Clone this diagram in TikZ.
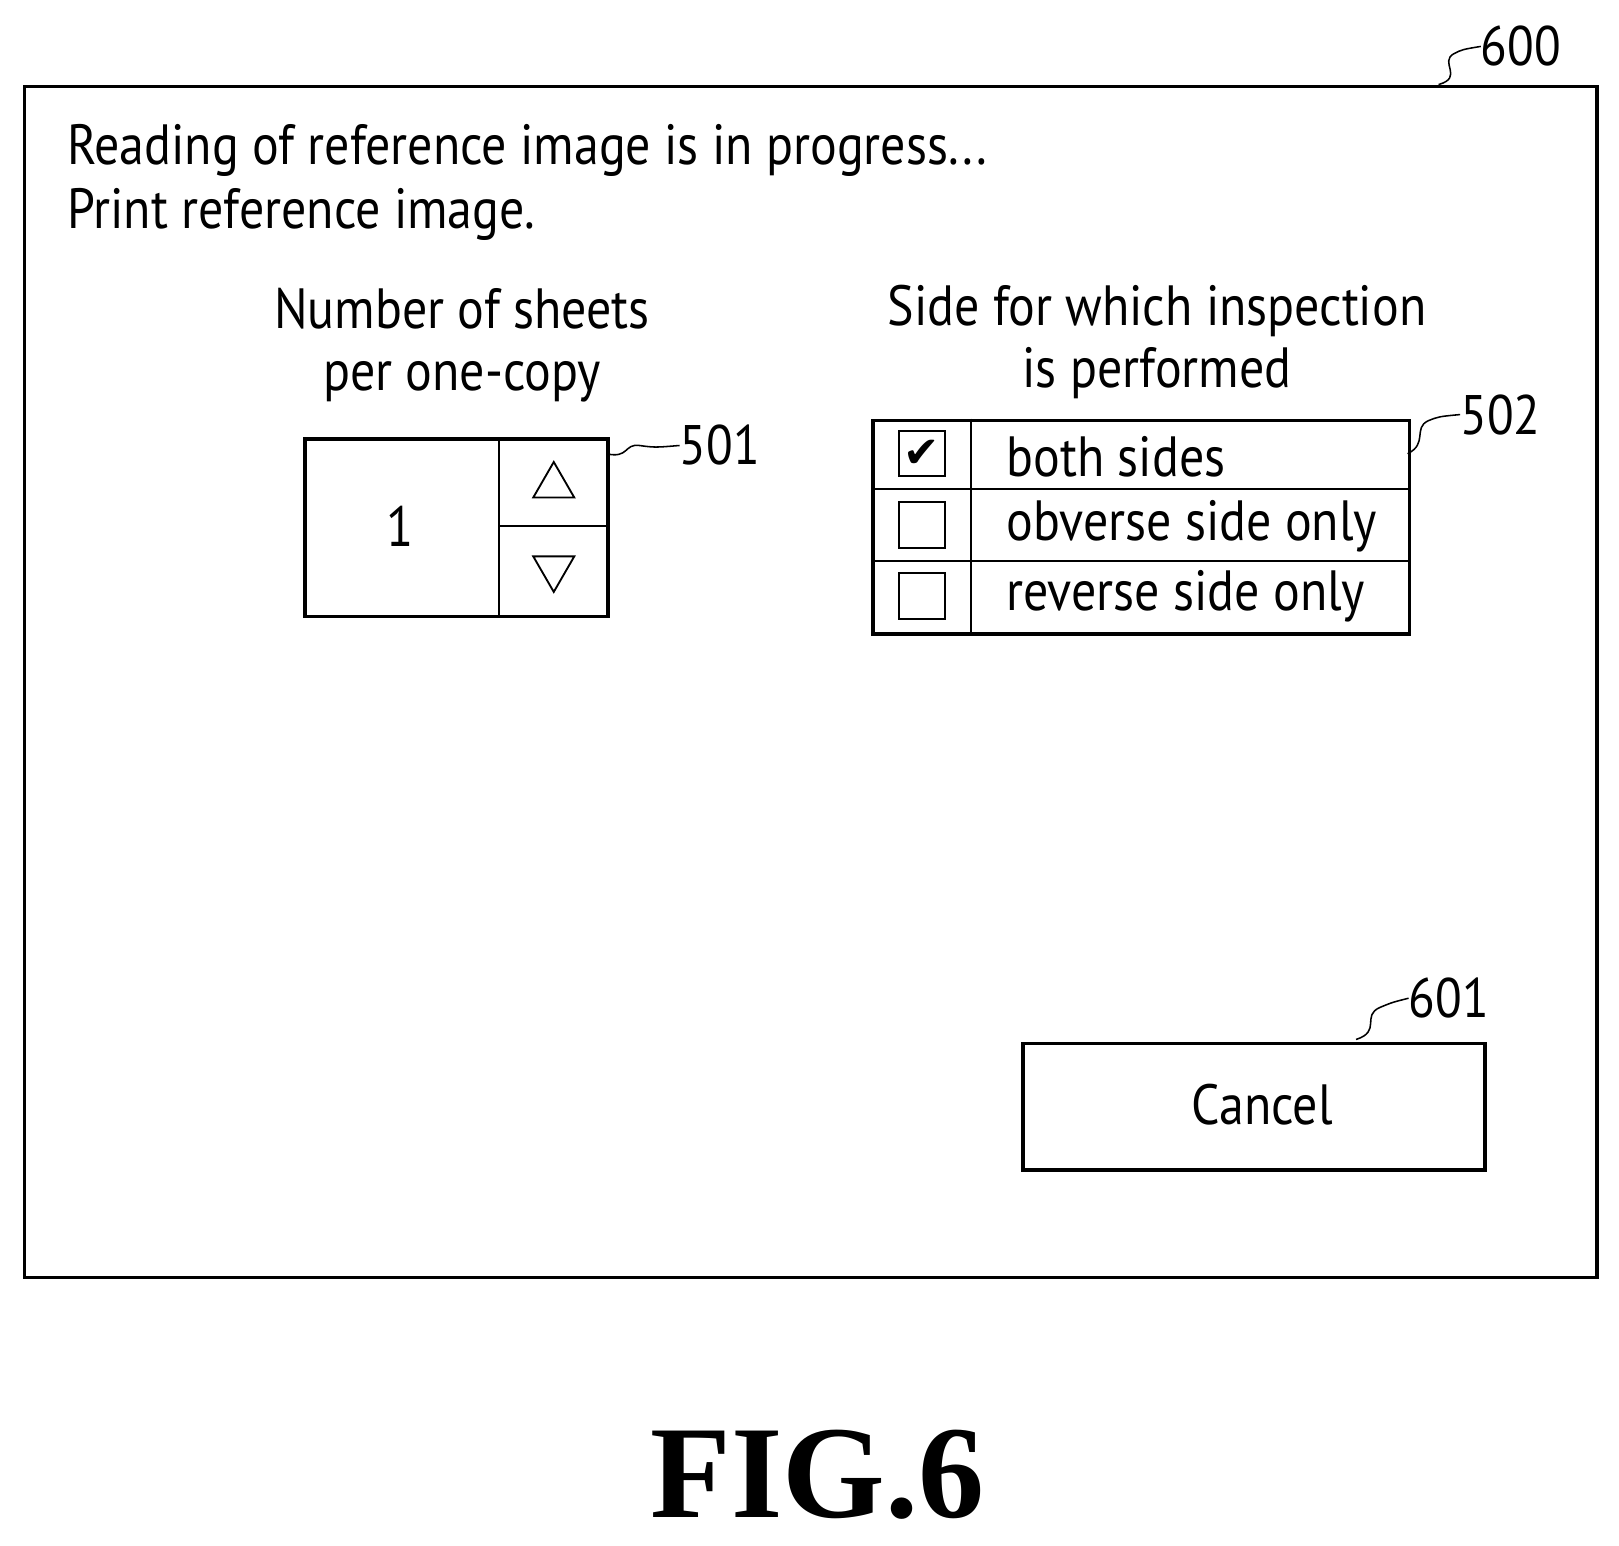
\documentclass[tikz,border=0pt]{standalone}
\usepackage{fontspec}
\usetikzlibrary{shapes.geometric}
\setmainfont{PT Sans}
\newfontfamily\figfont{Liberation Serif}
\newfontfamily\symfont{DejaVu Sans}
\newcommand{\cx}[1]{\scalebox{0.88}[1]{#1}}
\begin{document}
\begin{tikzpicture}[x=1pt,y=-1pt,
  box/.style={draw,line width=3.5pt},
  thin/.style={draw,line width=2pt},
  txt/.style={font=\fontsize{55}{60}\selectfont,inner sep=0pt},
  lbl/.style={font=\fontsize{54}{60}\selectfont,inner sep=0pt},
  sq/.style={line width=1.5pt}]
\useasboundingbox (0,0) rectangle (1570,1499);
\node[box,minimum width=1525pt,minimum height=1155pt,anchor=north west] (win) at (22,82) {};
\node[lbl] (l600) at (1475,45) {\cx{600}};
\coordinate (s600) at (1395,82);
\draw[sq] (s600) .. controls (1420,75) and (1395,60) .. (1410,52) .. controls (1418,48) .. (l600.west);
\node[txt,anchor=base west] (t1) at (65,160) {\cx{Reading of reference image is in progress...}};
\node[txt,anchor=base west] (t2) at (65,222) {\cx{Print reference image.}};
\node[txt,align=center] (h1) at (448,335) {\cx{Number of sheets}\\\cx{per one-copy}};
\node[txt,align=center] (h2) at (1122,332) {\cx{Side for which inspection}\\\cx{is performed}};
% 501
\node[box,minimum width=294pt,minimum height=172pt,anchor=north west] (b501) at (294,424) {};
\draw[thin] (484,424) -- (484,596) (484,510) -- (588,510);
\node[txt] (one) at (388,510) {\cx{1}};
\node[draw,regular polygon,regular polygon sides=3,line width=1.8pt,minimum size=46pt,inner sep=0pt] (up) at (537,471) {};
\node[draw,regular polygon,regular polygon sides=3,shape border rotate=180,line width=1.8pt,minimum size=46pt,inner sep=0pt] (dn) at (537,551) {};
\node[lbl] (l501) at (698,432) {\cx{501}};
\coordinate (s501) at (588,440);
\draw[sq] (s501) .. controls (610,445) and (605,430) .. (620,432) .. controls (635,434) .. (l501.west);
% 502
\node[box,minimum width=520pt,minimum height=207pt,anchor=north west] (b502) at (845,406) {};
\draw[thin] (845,474) -- (1365,474) (845,544) -- (1365,544) (942,406) -- (942,613);
\foreach \y/\n in {440/c1,509/c2,578/c3}{\node[draw,line width=2pt,minimum size=44pt,inner sep=0pt] (\n) at (894,\y) {};}
\node[font=\symfont\bfseries\fontsize{42}{42}\selectfont,inner sep=0pt] (ck) at (c1) {✔};
\node[txt,anchor=base west] (o1) at (976,462) {\cx{both sides}};
\node[txt,anchor=base west] (o2) at (976,524) {\cx{obverse side only}};
\node[txt,anchor=base west] (o3) at (976,592) {\cx{reverse side only}};
\node[lbl] (l502) at (1455,402) {\cx{502}};
\coordinate (s502) at (1365,440);
\draw[sq] (s502) .. controls (1385,430) and (1370,415) .. (1385,408) .. controls (1395,404) .. (l502.west);
% cancel
\node[box,minimum width=448pt,minimum height=123pt,anchor=north west] (cancel) at (990,1010) {};
\node[txt] (ct) at (1224,1071) {\cx{Cancel}};
\node[lbl] (l601) at (1405,968) {\cx{601}};
\coordinate (s601) at (1315,1008);
\draw[sq] (s601) .. controls (1340,1000) and (1320,985) .. (1338,977) .. controls (1350,972) .. (l601.west);
\node[font=\figfont\bfseries\fontsize{128}{128}\selectfont,inner sep=0pt] (fig) at (793,1430) {FIG.6};
\end{tikzpicture}
\end{document}
